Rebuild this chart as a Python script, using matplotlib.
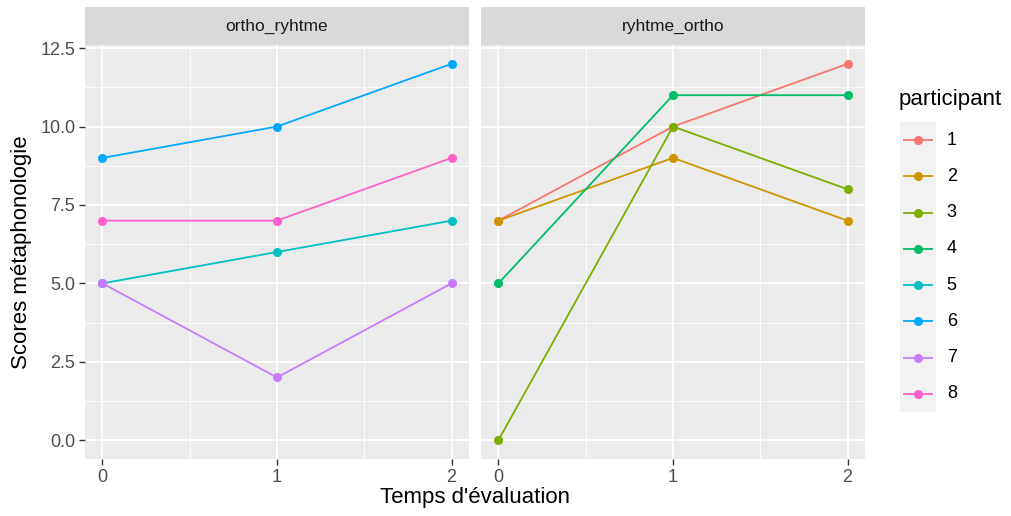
import matplotlib
matplotlib.use("Agg")
import matplotlib.pyplot as plt
from matplotlib.ticker import MultipleLocator

plt.rcParams['font.family'] = ['Liberation Sans', 'DejaVu Sans']

# data
temps = [0, 1, 2]
panels = ["ortho_ryhtme", "ryhtme_ortho"]
participants = ["1", "2", "3", "4", "5", "6", "7", "8"]
colors = ["#F8766D", "#CD9600", "#7CAE00", "#00BE67",
          "#00BFC4", "#00A9FF", "#C77CFF", "#FF61CC"]
groupe = ["ryhtme_ortho", "ryhtme_ortho", "ryhtme_ortho", "ryhtme_ortho",
          "ortho_ryhtme", "ortho_ryhtme", "ortho_ryhtme", "ortho_ryhtme"]
scores = [
    [7, 10, 12],
    [7, 9, 7],
    [0, 10, 8],
    [5, 11, 11],
    [5, 6, 7],
    [9, 10, 12],
    [5, 2, 5],
    [7, 7, 9],
]
yticks = [0.0, 2.5, 5.0, 7.5, 10.0, 12.5]

W, H = 1012, 516
fig = plt.figure(figsize=(W / 100, H / 100), dpi=100)

def box(l, t, r, b):
    return [l / W, 1 - b / H, (r - l) / W, (b - t) / H]

panel_x = [(85, 469), (481, 865)]
p_top, p_bot = 45, 459
strip_top = 7

axes = []
for k, name in enumerate(panels):
    l, r = panel_x[k]
    ax = fig.add_axes(box(l, p_top, r, p_bot))
    ax.set_facecolor("#EBEBEB")
    ax.set_xlim(-0.1, 2.1)
    ax.set_ylim(-0.6, 12.6)
    ax.set_xticks(temps)
    ax.set_xticklabels([str(t) for t in temps])
    ax.xaxis.set_minor_locator(MultipleLocator(0.5))
    ax.set_yticks(yticks)
    ax.yaxis.set_minor_locator(MultipleLocator(1.25))
    ax.grid(which="major", color="white", lw=1.3)
    ax.grid(which="minor", color="white", lw=0.6)
    ax.set_axisbelow(True)
    for s in ax.spines.values():
        s.set_visible(False)
    ax.tick_params(which="major", length=4, width=1, color="#333333",
                   labelsize=13, labelcolor="#4D4D4D", pad=3)
    ax.tick_params(which="minor", length=0)
    if k == 0:
        ax.set_yticklabels([f"{v:.1f}" for v in yticks])
    else:
        ax.tick_params(axis="y", which="major", length=0, labelleft=False)

    for p, c, g, sc in zip(participants, colors, groupe, scores):
        if g != name:
            continue
        ax.plot(temps, sc, color=c, lw=1.3, marker="o", ms=5.5, zorder=3)

    # strip
    sax = fig.add_axes(box(l, strip_top, r, p_top))
    sax.set_facecolor("#D9D9D9")
    sax.set_xticks([])
    sax.set_yticks([])
    for s in sax.spines.values():
        s.set_visible(False)
    sax.text(0.5, 0.5, name, ha="center", va="center", fontsize=12.5,
             color="#1A1A1A", transform=sax.transAxes)
    axes.append(ax)

fig.text(475 / W, 1 - 498 / H, "Temps d'évaluation", ha="center", va="center",
         fontsize=16, color="black")
fig.text(22 / W, 1 - 252 / H, "Scores métaphonologie", ha="center", va="center",
         rotation=90, fontsize=16, color="black")

# legend
fig.text(899 / W, 1 - 100 / H, "participant", ha="left", va="center",
         fontsize=16, color="black")
lax = fig.add_axes(box(900, 122, 936, 412))
lax.set_facecolor("#F2F2F2")
lax.set_xlim(0, 1)
n = len(participants)
lax.set_ylim(n - 0.5, -0.5)
lax.set_xticks([])
lax.set_yticks([])
for s in lax.spines.values():
    s.set_visible(False)
for i, (p, c) in enumerate(zip(participants, colors)):
    lax.plot([0.12, 0.88], [i, i], color=c, lw=1.3)
    lax.plot([0.5], [i], color=c, marker="o", ms=5.5)
    lax.text(1.3, i, p, ha="left", va="center", fontsize=13,
             color="black", transform=lax.transData, clip_on=False)

fig.savefig("out.png", dpi=100, facecolor="white")
